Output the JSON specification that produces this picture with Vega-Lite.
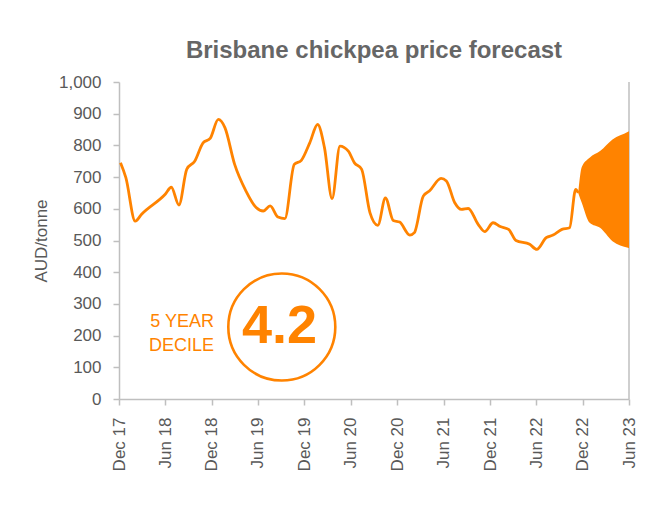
{
  "$schema": "https://vega.github.io/schema/vega-lite/v6.json",
  "width": 510,
  "height": 317,
  "autosize": {"type": "none"},
  "padding": {"left": 119, "top": 82, "right": 35, "bottom": 110},
  "background": "white",
  "config": {
    "font": "Liberation Sans",
    "view": {"stroke": null},
    "axis": {"grid": false, "domainColor": "#bfbfbf", "tickColor": "#bfbfbf", "domainWidth": 1.5, "tickWidth": 1.5, "labelColor": "#595959", "titleColor": "#595959", "labelFontSize": 17, "titleFontSize": 17, "titleFontWeight": "normal", "labelFont": "Liberation Sans", "titleFont": "Liberation Sans", "labelFlush": false}
  },
  "title": {"text": "Brisbane chickpea price forecast", "fontSize": 24, "fontWeight": "bold", "color": "#666666", "anchor": "middle", "frame": "group", "offset": 10, "font": "Liberation Sans"},
  "datasets": {
    "price": [
      {"date": "2017-12-07", "value": 745},
      {"date": "2017-12-28", "value": 698},
      {"date": "2018-02-03", "value": 561},
      {"date": "2018-02-28", "value": 583},
      {"date": "2018-06-01", "value": 646},
      {"date": "2018-06-25", "value": 668},
      {"date": "2018-07-25", "value": 612},
      {"date": "2018-08-25", "value": 725},
      {"date": "2018-09-25", "value": 750},
      {"date": "2018-10-28", "value": 808},
      {"date": "2018-11-25", "value": 822},
      {"date": "2018-12-27", "value": 882},
      {"date": "2019-01-22", "value": 856},
      {"date": "2019-03-01", "value": 741},
      {"date": "2019-04-15", "value": 656},
      {"date": "2019-05-25", "value": 604},
      {"date": "2019-06-22", "value": 593},
      {"date": "2019-07-19", "value": 609},
      {"date": "2019-08-19", "value": 574},
      {"date": "2019-09-15", "value": 569},
      {"date": "2019-10-22", "value": 740},
      {"date": "2019-11-19", "value": 753},
      {"date": "2019-12-22", "value": 808},
      {"date": "2020-01-22", "value": 866},
      {"date": "2020-02-18", "value": 793},
      {"date": "2020-03-19", "value": 632},
      {"date": "2020-04-19", "value": 798},
      {"date": "2020-05-22", "value": 782},
      {"date": "2020-06-15", "value": 745},
      {"date": "2020-07-13", "value": 725},
      {"date": "2020-08-15", "value": 588},
      {"date": "2020-09-15", "value": 548},
      {"date": "2020-10-15", "value": 634},
      {"date": "2020-11-15", "value": 563},
      {"date": "2020-12-10", "value": 558},
      {"date": "2021-01-19", "value": 517},
      {"date": "2021-02-06", "value": 525},
      {"date": "2021-03-13", "value": 640},
      {"date": "2021-04-06", "value": 656},
      {"date": "2021-05-22", "value": 696},
      {"date": "2021-06-12", "value": 688},
      {"date": "2021-07-15", "value": 619},
      {"date": "2021-08-10", "value": 598},
      {"date": "2021-09-06", "value": 601},
      {"date": "2021-10-15", "value": 551},
      {"date": "2021-11-10", "value": 528},
      {"date": "2021-12-13", "value": 556},
      {"date": "2022-01-10", "value": 544},
      {"date": "2022-02-12", "value": 535},
      {"date": "2022-03-13", "value": 500},
      {"date": "2022-05-06", "value": 488},
      {"date": "2022-06-03", "value": 472},
      {"date": "2022-07-10", "value": 509},
      {"date": "2022-08-06", "value": 517},
      {"date": "2022-09-10", "value": 535},
      {"date": "2022-10-10", "value": 540},
      {"date": "2022-11-03", "value": 661},
      {"date": "2022-11-13", "value": 650}
    ],
    "forecast": [
      {"date": "2022-11-13", "value": 650, "high": 650},
      {"date": "2022-11-27", "value": 619, "high": 732},
      {"date": "2022-12-28", "value": 556, "high": 761},
      {"date": "2023-02-07", "value": 540, "high": 782},
      {"date": "2023-03-28", "value": 498, "high": 819},
      {"date": "2023-05-28", "value": 477, "high": 843},
      {"date": "2023-06-01", "value": 476, "high": 845}
    ],
    "notes": [
      {"date": "2018-12-10", "value": 243, "label": "5 YEAR\nDECILE", "kind": "caption"},
      {"date": "2019-08-25", "value": 226, "label": "4.2", "kind": "decile"}
    ],
    "ring": [
      {"date": "2019-09-03", "value": 227}
    ],
    "edge": [
      {"date": "2023-06-01", "value": 0, "high": 1000}
    ]
  },
  "encoding": {
    "x": {
      "field": "date", "type": "temporal",
      "scale": {"type": "utc", "domain": [{"year": 2017, "month": 12, "date": 1, "utc": true}, {"year": 2023, "month": 6, "date": 1, "utc": true}]},
      "axis": {
        "title": null,
        "labelExpr": "utcFormat(datum.value, '%b %y')",
        "labelAngle": -90,
        "labelPadding": 12,
        "tickSize": 6,
        "values": [
          {"year": 2017, "month": 12, "date": 1, "utc": true},
          {"year": 2018, "month": 6, "date": 1, "utc": true},
          {"year": 2018, "month": 12, "date": 1, "utc": true},
          {"year": 2019, "month": 6, "date": 1, "utc": true},
          {"year": 2019, "month": 12, "date": 1, "utc": true},
          {"year": 2020, "month": 6, "date": 1, "utc": true},
          {"year": 2020, "month": 12, "date": 1, "utc": true},
          {"year": 2021, "month": 6, "date": 1, "utc": true},
          {"year": 2021, "month": 12, "date": 1, "utc": true},
          {"year": 2022, "month": 6, "date": 1, "utc": true},
          {"year": 2022, "month": 12, "date": 1, "utc": true},
          {"year": 2023, "month": 6, "date": 1, "utc": true}
        ]
      }
    },
    "y": {
      "field": "value", "type": "quantitative",
      "scale": {"domain": [0, 1000], "nice": false},
      "axis": {"title": "AUD/tonne", "format": ",d", "values": [0, 100, 200, 300, 400, 500, 600, 700, 800, 900, 1000], "tickSize": 6, "labelPadding": 12, "titlePadding": 8}
    }
  },
  "layer": [
    {
      "data": {"name": "edge"},
      "mark": {"type": "rule", "color": "#bfbfbf", "strokeWidth": 1.5},
      "encoding": {"y2": {"field": "high"}}
    },
    {
      "data": {"name": "forecast"},
      "mark": {"type": "area", "color": "#FF8300", "opacity": 1, "interpolate": "monotone"},
      "encoding": {"y2": {"field": "high"}}
    },
    {
      "data": {"name": "price"},
      "mark": {"type": "line", "color": "#FF8300", "strokeWidth": 2.8, "interpolate": "monotone"},
      "encoding": {}
    },
    {
      "data": {"name": "ring"},
      "mark": {"type": "point", "shape": "circle", "filled": false, "color": "#FF8300", "strokeWidth": 2.6, "size": 11449, "opacity": 1},
      "encoding": {}
    },
    {
      "data": {"name": "notes"},
      "transform": [{"filter": "datum.kind === 'caption'"}],
      "mark": {"type": "text", "align": "right", "baseline": "middle", "fontSize": 18, "color": "#FF8300", "lineBreak": "\n", "lineHeight": 24},
      "encoding": {"text": {"field": "label"}}
    },
    {
      "data": {"name": "notes"},
      "transform": [{"filter": "datum.kind === 'decile'"}],
      "mark": {"type": "text", "align": "center", "baseline": "middle", "fontSize": 54, "fontWeight": "bold", "color": "#FF8300"},
      "encoding": {"text": {"field": "label"}}
    }
  ]
}
